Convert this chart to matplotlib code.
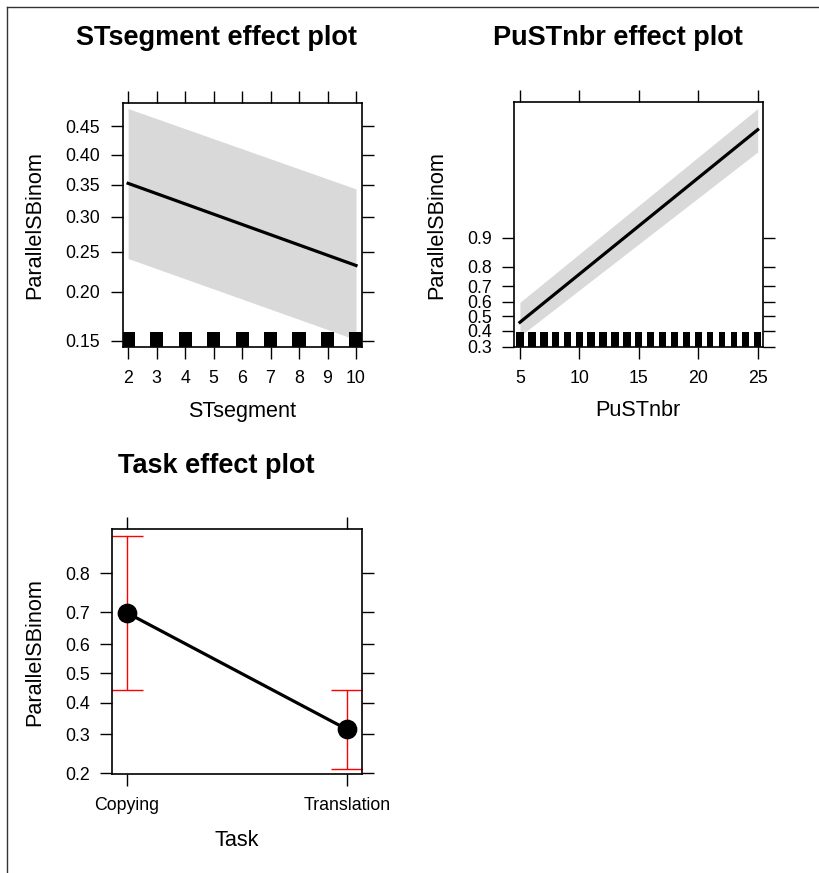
import matplotlib
matplotlib.use("Agg")
import matplotlib.pyplot as plt
from matplotlib.lines import Line2D
from matplotlib.ticker import NullLocator, NullFormatter

plt.rcParams['font.family'] = ['Liberation Sans', 'DejaVu Sans']

# STsegment effect (fit and 95% band at the ends of the range)
st_x = [2, 10]
st_fit = [0.352, 0.232]
st_lo = [0.241, 0.151]
st_hi = [0.481, 0.343]
st_rug = [2, 3, 4, 5, 6, 7, 8, 9, 10]
st_rug_w = [0.46] * 9
st_xticks = [2, 3, 4, 5, 6, 7, 8, 9, 10]
st_yticks = [0.15, 0.20, 0.25, 0.30, 0.35, 0.40, 0.45]
st_ylabels = ['0.15', '0.20', '0.25', '0.30', '0.35', '0.40', '0.45']

# PuSTnbr effect
pu_x = [5, 25]
pu_fit = [0.459, 0.9946]
pu_lo = [0.366, 0.9900]
pu_hi = [0.597, 0.9970]
pu_rug = list(range(5, 26))
pu_rug_w = [0.65] * 10 + [0.56] * 11
pu_xticks = [5, 10, 15, 20, 25]
pu_yticks = [0.3, 0.4, 0.5, 0.6, 0.7, 0.8, 0.9]

# Task effect
task_names = ['Copying', 'Translation']
task_fit = [0.698, 0.315]
task_lo = [0.441, 0.210]
task_hi = [0.871, 0.441]
task_yticks = [0.2, 0.3, 0.4, 0.5, 0.6, 0.7, 0.8]

W, H = 819, 873
fig = plt.figure(figsize=(W / 100, H / 100), dpi=100)


def box(l, t, r, b):
    return [l / W, 1 - b / H, (r - l) / W, (b - t) / H]


def style(ax, yticks, ylabels, ylim):
    ax.set_yscale('logit')
    ax.set_ylim(*ylim)
    ax.set_yticks(yticks)
    ax.set_yticklabels(ylabels)
    ax.yaxis.set_minor_locator(NullLocator())
    ax.yaxis.set_minor_formatter(NullFormatter())
    ax.tick_params(direction='out', length=8.6, width=1, labelsize=12.8,
                   top=True, right=True, labeltop=False, labelright=False, pad=7.5)
    for s in ax.spines.values():
        s.set_linewidth(1.2)


def rug(ax, xs, ws):
    ax.bar(xs, 0.061, width=ws, bottom=0, color='black',
           transform=ax.get_xaxis_transform(), zorder=4)


# panel 1
ax1 = fig.add_axes(box(122.7, 102.7, 361.7, 347.3))
ax1.fill_between(st_x, st_lo, st_hi, color='#d9d9d9', lw=0, zorder=1)
ax1.plot(st_x, st_fit, color='black', lw=2.3, zorder=3)
rug(ax1, st_rug, st_rug_w)
ax1.set_xticks(st_xticks)
ax1.set_xlim(1.81, 10.2)
style(ax1, st_yticks, st_ylabels, (0.1441, 0.4915))

# panel 2
ax2 = fig.add_axes(box(514, 102.3, 763.3, 347.3))
ax2.fill_between(pu_x, pu_lo, pu_hi, color='#d9d9d9', lw=0, zorder=1)
ax2.plot(pu_x, pu_fit, color='black', lw=2.3, zorder=3)
rug(ax2, pu_rug, pu_rug_w)
ax2.set_xticks(pu_xticks)
ax2.set_xlim(4.5, 25.47)
style(ax2, pu_yticks, [str(v) for v in pu_yticks], (0.2966, 0.99748))

# panel 3
ax3 = fig.add_axes(box(112.3, 529.3, 361.7, 774.3))
tx = [1, 2]
yerr = [[f - lo for f, lo in zip(task_fit, task_lo)],
        [hi - f for f, hi in zip(task_fit, task_hi)]]
ax3.errorbar(tx, task_fit, yerr=yerr, fmt='none', ecolor='red',
             elinewidth=1, capsize=11.5, capthick=1, zorder=2)
ax3.plot(tx, task_fit, color='black', lw=2.3, zorder=3)
ax3.plot(tx, task_fit, 'o', color='black', ms=13.2, zorder=4)
ax3.set_xticks(tx)
ax3.set_xticklabels(task_names)
ax3.set_xlim(0.933, 2.067)
style(ax3, task_yticks, [str(v) for v in task_yticks], (0.1978, 0.8804))


def ftext(px, py, s, **kw):
    fig.text(px / W, 1 - py / H, s, ha='center', va='center', **kw)


ftext(216, 38, 'STsegment effect plot', fontsize=19.5, fontweight='bold')
ftext(618, 38, 'PuSTnbr effect plot', fontsize=19.5, fontweight='bold')
ftext(216.5, 466, 'Task effect plot', fontsize=19.5, fontweight='bold')
ftext(242, 411, 'STsegment', fontsize=15.6)
ftext(638, 411, 'PuSTnbr', fontsize=15.6)
ftext(237, 840, 'Task', fontsize=15.6)
ftext(35, 225, 'ParallelSBinom', fontsize=15.6, rotation=90)
ftext(437, 225, 'ParallelSBinom', fontsize=15.6, rotation=90)
ftext(35, 652, 'ParallelSBinom', fontsize=15.6, rotation=90)

# outer frame lines (left and top)
fig.add_artist(Line2D([7 / W, 7 / W], [0, 1 - 7 / H], color='#333333', lw=1))
fig.add_artist(Line2D([7 / W, 1], [1 - 7 / H, 1 - 7 / H], color='#333333', lw=1))

fig.savefig('out.png', dpi=100)
